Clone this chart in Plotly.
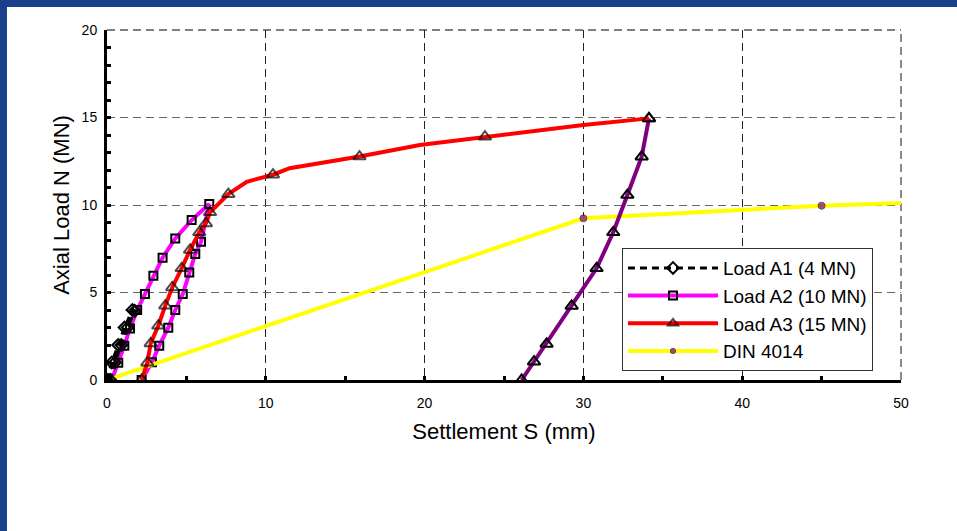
import plotly.graph_objects as go

# ---- data ----
a1_x = [0.0, 0.3, 0.7, 1.1, 1.6, 1.75, 1.3, 0.9, 0.5, 0.2]
a1_y = [0.0, 1.0, 2.0, 3.0, 4.0, 3.95, 3.0, 2.0, 1.0, 0.0]

a2_x = [0.3, 0.71, 1.09, 1.45, 1.9, 2.39, 2.92, 3.5, 4.3, 5.33, 6.44,
        5.92, 5.56, 5.18, 4.77, 4.3, 3.86, 3.29, 2.83, 2.18]
a2_y = [0.0, 0.99, 1.96, 2.95, 4.0, 4.91, 5.96, 6.99, 8.09, 9.14, 10.06,
        7.9, 7.2, 6.15, 4.91, 4.0, 2.99, 1.96, 1.01, 0.0]

a3_x = [2.18, 2.54, 2.75, 3.23, 3.67, 4.11, 4.70, 5.23, 5.81, 6.23, 6.49,
        7.64, 8.8, 10.45, 11.5, 15.9, 19.7, 23.8, 30.0, 34.13]
a3_y = [0.0, 0.99, 2.09, 3.1, 4.25, 5.29, 6.38, 7.43, 8.44, 8.95, 9.58,
        10.62, 11.33, 11.73, 12.1, 12.77, 13.43, 13.9, 14.57, 14.95]
a3_mark = [1, 1, 1, 1, 1, 1, 1, 1, 1, 1, 1,
           1, 0, 1, 0, 1, 0, 1, 0, 1]

a3u_x = [34.13, 33.67, 32.77, 31.88, 30.83, 29.26, 27.68, 26.89, 26.11]
a3u_y = [14.95, 12.76, 10.57, 8.44, 6.38, 4.23, 2.06, 1.05, 0.0]

din_x = [0.0, 30.0, 45.0, 50.4]
din_y = [0.0, 9.24, 9.96, 10.12]
din_mark = [1, 1, 1, 0]

x_ticks = [0, 10, 20, 30, 40, 50]
y_ticks = [0, 5, 10, 15, 20]

FONT = "Arial, Liberation Sans, sans-serif"

fig = go.Figure()

fig.add_trace(go.Scatter(
    x=a2_x, y=a2_y, mode="lines+markers", name="Load A2 (10 MN)",
    line=dict(color="#ff00ff", width=4),
    marker=dict(symbol="square-open", size=8, color="black", line=dict(width=2)),
    legendrank=2))

fig.add_trace(go.Scatter(
    x=din_x, y=din_y, mode="lines+markers", name="DIN 4014",
    line=dict(color="#ffff00", width=4),
    marker=dict(symbol="circle", size=[7 * m for m in din_mark], color="#800080",
                line=dict(color="#330033", width=1)),
    legendrank=4))

fig.add_trace(go.Scatter(
    x=a3u_x, y=a3u_y, mode="lines+markers", name="A3 unloading",
    line=dict(color="#800080", width=4),
    marker=dict(symbol="triangle-up-open", size=11, color="black", line=dict(width=2)),
    showlegend=False))

fig.add_trace(go.Scatter(
    x=a3_x, y=a3_y, mode="lines+markers", name="Load A3 (15 MN)",
    line=dict(color="#ff0000", width=4),
    marker=dict(symbol="triangle-up-open", size=[11 * m for m in a3_mark], color="black",
                line=dict(width=2)),
    legendrank=3))

fig.add_trace(go.Scatter(
    x=a1_x, y=a1_y, mode="lines+markers", name="Load A1 (4 MN)",
    line=dict(color="black", width=3, dash="7px,5px"),
    marker=dict(symbol="diamond-open", size=9, color="black", line=dict(width=2)),
    legendrank=1))

axis_common = dict(
    showline=True, linecolor="black", linewidth=3,
    ticks="inside", ticklen=4, tickwidth=3, tickcolor="black",
    showgrid=True, griddash="8px,5px", gridwidth=1,
    zeroline=False, tickfont=dict(family=FONT, size=14, color="black"),
    mirror=False,
)

fig.update_xaxes(
    **axis_common, range=[0, 50], tickvals=x_ticks, gridcolor="#222222",
    minor=dict(dtick=5, ticks="inside", ticklen=4, tickwidth=3, tickcolor="black", showgrid=False),
    title=dict(text="Settlement S (mm)", font=dict(family=FONT, size=22, color="black"), standoff=14),
    ticklabelstandoff=8,
)
fig.update_yaxes(
    **axis_common, range=[0, 20], tickvals=y_ticks, gridcolor="#666666",
    minor=dict(dtick=1, ticks="inside", ticklen=4, tickwidth=3, tickcolor="black", showgrid=False),
    title=dict(text="Axial Load N (MN)", font=dict(family=FONT, size=22, color="black"), standoff=6),
    ticklabelstandoff=4,
)

fig.update_layout(
    width=957, height=531,
    margin=dict(l=107, r=56, t=30, b=151, autoexpand=False),
    paper_bgcolor="#1c3f8c",
    plot_bgcolor="white",
    font=dict(family=FONT, color="black"),
    showlegend=True,
    legend=dict(
        x=0.6486, y=0.377, xanchor="left", yanchor="top",
        bgcolor="white", bordercolor="#333333", borderwidth=1,
        font=dict(family=FONT, size=19, color="black"),
        itemwidth=90, traceorder="normal", entrywidth=262,
    ),
    shapes=[
        dict(type="rect", xref="paper", yref="paper", layer="below",
             x0=(7 - 107) / 794, x1=(960 - 107) / 794,
             y0=(380 - 535) / 350, y1=(380 - 7) / 350,
             fillcolor="white", line=dict(width=0)),
        dict(type="line", xref="paper", yref="paper", layer="below",
             x0=1, x1=1, y0=0, y1=1,
             line=dict(color="#666666", width=1.5, dash="8px,5px")),
        dict(type="line", xref="paper", yref="paper", layer="below",
             x0=0, x1=1, y0=1, y1=1,
             line=dict(color="#555555", width=1.5, dash="8px,5px")),
    ],
)

fig.write_html("out.html")
